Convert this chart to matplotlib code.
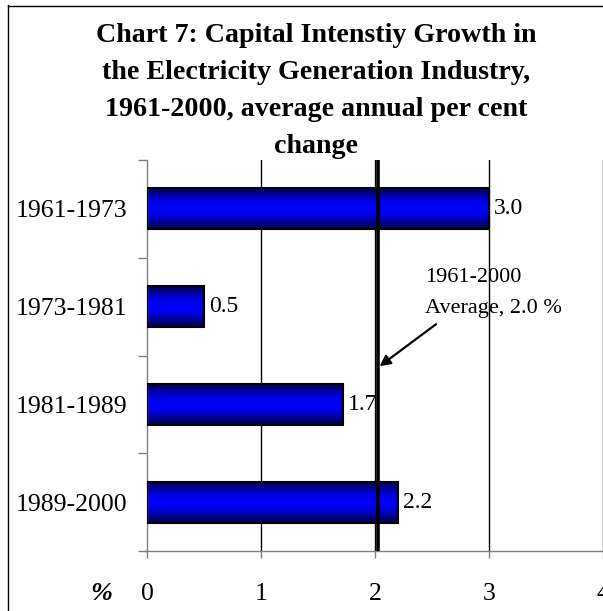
import matplotlib
matplotlib.use("Agg")
import matplotlib.pyplot as plt
import numpy as np
from matplotlib.colors import LinearSegmentedColormap
from matplotlib.lines import Line2D

# ---- data ----
periods = ["1961-1973", "1973-1981", "1981-1989", "1989-2000"]
growth = [3.0, 0.5, 1.72, 2.2]
growth_labels = ["3.0", "0.5", "1.7", "2.2"]
average_value = 2.03
average_label = "1961-2000\nAverage, 2.0 %"
x_ticks = [0, 1, 2, 3, 4]
title_lines = [
    "Chart 7: Capital Intenstiy Growth in",
    "the Electricity Generation Industry,",
    "1961-2000, average annual per cent",
    "change",
]

W, H = 603, 611
plt.rcParams['font.family'] = ['Liberation Serif', 'DejaVu Serif']

fig = plt.figure(figsize=(W / 100, H / 100), dpi=100)
fig.patch.set_facecolor("white")

def fx(px):
    return px / W

def fy(py):
    return 1 - py / H

# outer frame (left and top edges visible)
fig.add_artist(Line2D([fx(7.5), fx(7.5)], [fy(5), 0], transform=fig.transFigure, color="black", lw=1))
fig.add_artist(Line2D([fx(7.5), 1], [fy(5.5), fy(5.5)], transform=fig.transFigure, color="black", lw=1))

# title lines
baselines = [42, 79, 116, 153]
for line, b in zip(title_lines, baselines):
    fig.text(fx(316), fy(b), line, ha="center", va="baseline",
             fontsize=20.2, fontweight="bold")

left, right, top, bottom = 147, 603, 160, 551
ax = fig.add_axes([fx(left), fy(bottom), fx(right) - fx(left), (bottom - top) / H])
ax.set_facecolor("none")

n = len(periods)
ypos = np.arange(n)
bar_h = 0.42

cmap = LinearSegmentedColormap.from_list(
    "bluegrad", [(0, "#000040"), (0.3, "#0000d8"), (0.5, "#0000ff"),
                 (0.7, "#0000d8"), (1, "#000040")])
grad = np.linspace(0, 1, 256).reshape(-1, 1)

bars = ax.barh(ypos, growth, height=bar_h, facecolor="none",
               edgecolor="black", linewidth=1.5, zorder=3)
for y, v in zip(ypos, growth):
    ax.imshow(grad, extent=[0, v, y + bar_h / 2, y - bar_h / 2],
              aspect="auto", cmap=cmap, zorder=2, interpolation="bilinear")

ax.bar_label(bars, labels=growth_labels, padding=3.5, fontsize=17)

# gridlines
for xv in x_ticks[1:]:
    ax.axvline(xv, color="black", lw=1, zorder=1)

# average line
ax.axvline(average_value, color="black", lw=2.6, zorder=4)

# annotation
ax.annotate("", xy=(average_value + 0.01, 1.61), xytext=(2.535, 1.18),
            arrowprops=dict(arrowstyle="-|>", color="black", lw=1.6,
                            mutation_scale=16, shrinkA=0, shrinkB=0),
            zorder=5)
ax.text(2.44, 0.6, average_label, ha="left", va="top", fontsize=16,
        linespacing=1.9, zorder=5)

ax.set_xlim(0, 4)
ax.set_ylim(n - 0.5, -0.5)

ax.set_xticks(x_ticks)
ax.set_xticklabels([str(t) for t in x_ticks], fontsize=18.5)
ax.set_yticks(ypos)
ax.set_yticklabels(periods, fontsize=18.5)
ax.set_yticks(np.arange(-0.5, n, 1.0), minor=True)

ax.tick_params(axis="y", which="major", length=0, pad=14.5)
ax.tick_params(axis="y", which="minor", length=6.5, color="#808080", width=1, direction="out")
ax.tick_params(axis="x", which="major", length=5, color="#808080", width=1, direction="out", pad=18)

for s in ["top", "right"]:
    ax.spines[s].set_visible(False)
for s in ["left", "bottom"]:
    ax.spines[s].set_color("#808080")
    ax.spines[s].set_linewidth(1)
ax.spines["bottom"].set_bounds(-0.03, 4)
ax.spines["bottom"].set_clip_on(False)

fig.text(fx(101), fy(593), "%", ha="center", va="center", fontsize=19,
         fontweight="bold", fontstyle="italic")

fig.savefig("out.png", dpi=100)
